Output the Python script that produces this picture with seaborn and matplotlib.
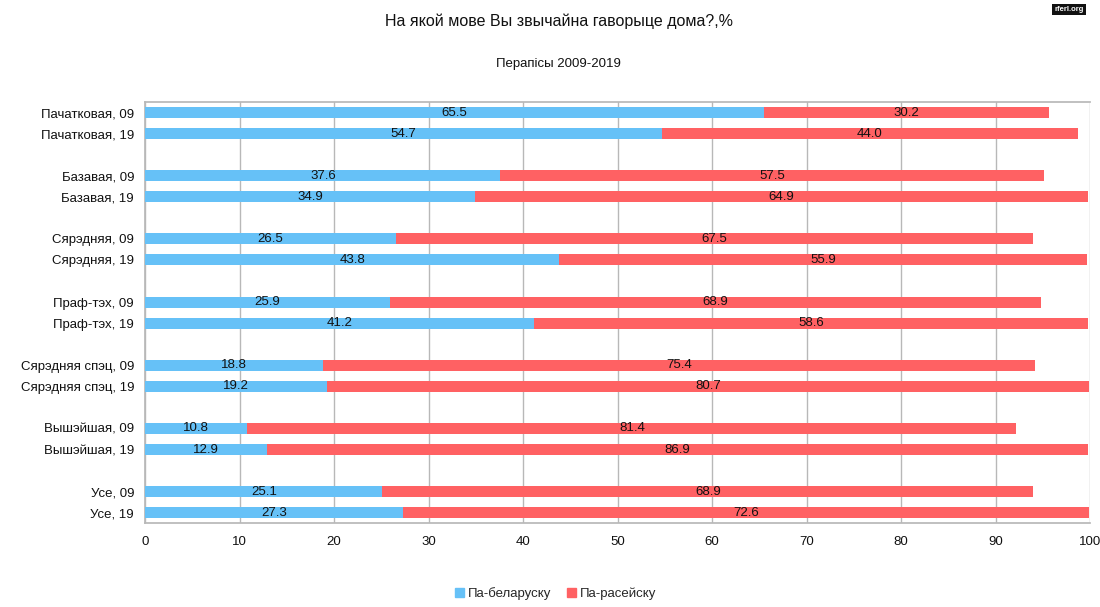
import matplotlib
matplotlib.use("Agg")
import matplotlib.pyplot as plt
import seaborn as sns
import pandas as pd
import numpy as np
from matplotlib.patches import Patch

# ---- data ----
categories = ["Пачатковая", "Базавая", "Сярэдняя", "Праф-тэх",
              "Сярэдняя спэц", "Вышэйшая", "Усе"]
years = ["09", "19"]
belarusian = [65.5, 54.7, 37.6, 34.9, 26.5, 43.8, 25.9, 41.2,
              18.8, 19.2, 10.8, 12.9, 25.1, 27.3]
russian = [30.2, 44.0, 57.5, 64.9, 67.5, 55.9, 68.9, 58.6,
           75.4, 80.7, 81.4, 86.9, 68.9, 72.6]
series_names = ["Па-беларуску", "Па-расейску"]
title = "На якой мове Вы звычайна гаворыце дома?,%"
subtitle = "Перапісы 2009-2019"
xticks = [0, 10, 20, 30, 40, 50, 60, 70, 80, 90, 100]

BLUE = "#66C1F7"
RED = "#FF6163"

sns.set_theme(style="white")
plt.rcParams['font.family'] = ['Liberation Sans', 'DejaVu Sans']

labels, pos = [], []
for g, c in enumerate(categories):
    for i, y in enumerate(years):
        labels.append(f"{c}, {y}")
        pos.append(g * 3 + i)

df = pd.DataFrame({"label": labels, "pos": pos,
                   "bel": belarusian, "rus": russian})
df["total"] = df["bel"] + df["rus"]

fig = plt.figure(figsize=(11, 6.07), dpi=100)
ax = fig.add_axes([0.132, 0.138, 0.859, 0.694])

sns.barplot(data=df, x="total", y="pos", orient="h", native_scale=True,
            color=RED, saturation=1, width=0.52, linewidth=0, ax=ax, zorder=2)
sns.barplot(data=df, x="bel", y="pos", orient="h", native_scale=True,
            color=BLUE, saturation=1, width=0.52, linewidth=0, ax=ax, zorder=3)

for _, r in df.iterrows():
    ax.text(r["bel"] / 2, r["pos"], f"{r['bel']:.1f}", ha="center",
            va="center", fontsize=9.5, color="#111111", zorder=5)
    ax.text(r["bel"] + r["rus"] / 2, r["pos"], f"{r['rus']:.1f}",
            ha="center", va="center", fontsize=9.5, color="#111111", zorder=5)

ax.set_xlim(0, 100)
ax.set_ylim(19.5, -0.5)
ax.set_xticks(xticks)
ax.set_xticklabels([str(t) for t in xticks], fontsize=9.5, color="#111111")
ax.set_yticks(df["pos"])
ax.set_yticklabels(df["label"], fontsize=9.5, color="#111111")
ax.set_yticks(np.arange(-0.5, 20, 1), minor=True)
ax.tick_params(axis="y", which="major", length=0, pad=8)
ax.tick_params(axis="y", which="minor", length=5, color="#b0b0b0", width=1)
ax.tick_params(axis="x", which="major", length=5, color="#b0b0b0", pad=4)
ax.set_xlabel("")
ax.set_ylabel("")
ax.xaxis.grid(True, color="#b8b8b8", linewidth=1, zorder=0)
ax.set_axisbelow(True)
for s in ["left", "bottom", "top"]:
    ax.spines[s].set_color("#b8b8b8")
    ax.spines[s].set_visible(True)
ax.spines["right"].set_visible(False)

fig.text(0.508, 0.965, title, ha="center", va="center", fontsize=11.5,
         color="#111111")
fig.text(0.508, 0.895, subtitle, ha="center", va="center", fontsize=9.5,
         color="#111111")

handles = [Patch(color=BLUE), Patch(color=RED)]
fig.legend(handles, series_names, loc="center", bbox_to_anchor=(0.505, 0.022),
           ncol=2, frameon=False, fontsize=9.5, handlelength=0.7,
           handleheight=0.7, handletextpad=0.3, columnspacing=1.2)

fig.text(0.985, 0.99, "rferl.org", ha="right", va="top", fontsize=5.5,
         color="white", fontweight="bold",
         bbox=dict(boxstyle="square,pad=0.3", fc="#111111", ec="none"))

fig.savefig("out.png", dpi=100, facecolor="white")
